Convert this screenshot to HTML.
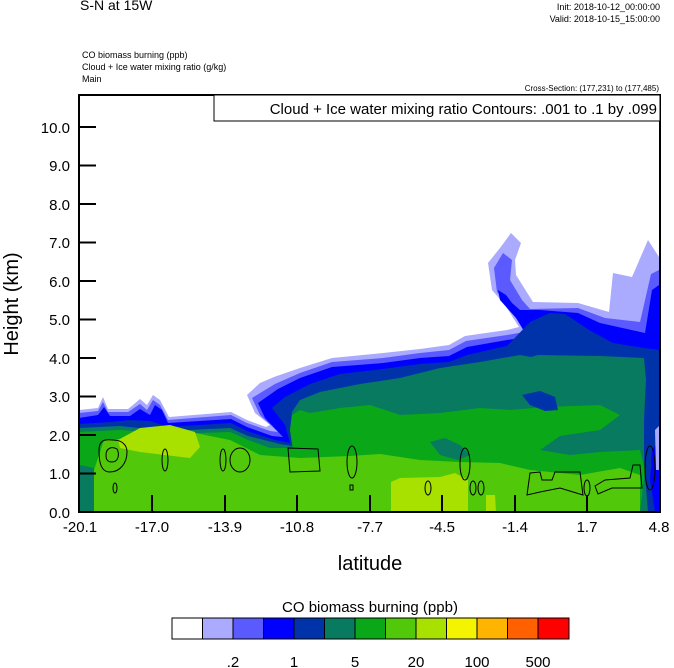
<!DOCTYPE html>
<html><head><meta charset="utf-8"><style>
body{margin:0;background:#fff;width:674px;height:668px;overflow:hidden}
svg{display:block;font-family:"Liberation Sans",sans-serif}
</style></head><body>
<svg width="674" height="668" viewBox="0 0 674 668" xmlns="http://www.w3.org/2000/svg">
<rect width="674" height="668" fill="#fff"/>
<text x="80" y="10" font-size="14">S-N at 15W</text>
<text x="660" y="10" font-size="9" text-anchor="end">Init: 2018-10-12_00:00:00</text>
<text x="660" y="22" font-size="9" text-anchor="end">Valid: 2018-10-15_15:00:00</text>
<text x="82" y="58" font-size="9">CO biomass burning   (ppb)</text>
<text x="82" y="70" font-size="9">Cloud + Ice water mixing ratio   (g/kg)</text>
<text x="82" y="82" font-size="9">Main</text>
<text x="659" y="91" font-size="8" text-anchor="end">Cross-Section: (177,231) to (177,485)</text>
<defs><clipPath id="c"><rect x="79" y="95" width="581" height="417"/></clipPath></defs>
<g clip-path="url(#c)">
<polygon fill="#aaaaff" points="79,410 98,408 103,397 108,409 128,409 133,405 140,399 147,405 153,395 160,400 169,417 231,412 247,420 266,427 270,425 255,413 247,395 260,383 274,377 300,368 332,358 383,353 420,349 449,345 465,336 507,330 519,327 505,305 492,290 488,263 500,248 511,233 521,243 515,260 516,275 533,302 578,303 609,312 613,273 632,277 648,240 659,257 660,512 79,512"/>
<polygon fill="#5a5aff" points="79,413 98,411 103,402 108,412 128,412 140,404 147,410 153,400 160,405 168,420 231,415 247,423 270,431 278,432 260,415 252,398 275,384 300,373 332,362 383,358 420,353 449,350 466,341 507,335 524,332 512,310 497,292 494,268 503,253 512,260 510,280 522,300 530,309 578,308 605,318 640,322 651,274 659,270 660,512 79,512"/>
<polygon fill="#0000ff" points="79,418 98,415 104,407 110,416 130,416 140,409 150,415 155,405 162,410 168,423 231,419 247,427 272,436 283,437 265,418 258,403 278,389 300,378 332,367 383,363 420,358 449,356 467,347 507,340 528,337 516,318 500,300 498,290 506,295 512,303 520,310 540,310 578,313 600,323 645,333 652,290 659,285 660,512 79,512"/>
<polygon fill="#0033aa" points="79,424 110,422 130,420 150,421 168,427 231,423 247,431 275,440 290,443 285,425 272,408 285,397 310,384 340,374 383,369 420,364 449,362 467,355 507,346 530,322 550,313 565,314 589,330 613,343 644,348 660,350 660,512 79,512"/>
<polygon fill="#077a60" points="79,428 120,426 168,431 230,428 248,436 280,444 292,446 290,430 292,412 300,400 320,392 360,384 400,378 440,368 480,362 520,355 531,357 538,355 600,356 644,358 646,380 644,420 644,455 645,475 648,512 79,512"/>
<polygon fill="#0aa818" points="79,432 120,430 170,434 230,432 248,440 270,448 293,448 290,430 292,415 300,410 310,413 340,408 370,405 400,415 440,413 480,408 510,410 545,407 600,405 620,415 600,430 560,436 540,450 570,455 600,452 640,450 645,470 640,512 79,512"/>
<polygon fill="#0033aa" points="522,395 540,391 555,397 558,410 545,411 530,405"/>
<polygon fill="#077a60" points="430,442 445,438 460,445 470,455 458,460 440,455"/>
<polygon fill="#077a60" points="80,465 94,468 94,512 79,512"/>
<polygon fill="#52c80a" points="94,470 104,440 140,438 180,430 230,440 260,455 300,458 350,456 380,454 420,460 460,462 500,463 530,470 580,475 620,468 640,475 640,512 94,512"/>
<polygon fill="#a8e000" points="118,440 140,428 170,425 195,432 200,447 190,458 165,455 140,452 120,448"/>
<polygon fill="#a8e000" points="391,482 400,478 440,477 455,473 468,480 468,512 391,512"/>
<polygon fill="#a8e000" points="486,495 495,495 496,512 486,512"/>
<polygon fill="#0000ff" points="652,450 660,440 660,512 655,512 650,480"/>
<polygon fill="#aaaaff" points="655,430 660,425 660,470 656,470"/>
<g fill="none" stroke="#000" stroke-width="1">
<path d="M99,450 C99,440 105,439 113,440 C122,440 127,445 127,452 C127,463 120,472 110,472 C100,472 99,460 99,450Z"/>
<path d="M106,455 C106,448 112,446 117,449 C120,455 118,462 112,462 C107,462 106,459 106,455Z"/>
<ellipse cx="165" cy="460" rx="3" ry="11"/>
<ellipse cx="223" cy="460" rx="3" ry="11"/>
<ellipse cx="240" cy="460" rx="10" ry="12"/>
<path d="M288,448 L318,449 L320,471 L290,472 Z"/>
<ellipse cx="352" cy="462" rx="5" ry="16"/>
<rect x="350" y="485" width="3" height="5"/>
<ellipse cx="465" cy="464" rx="5" ry="16"/>
<ellipse cx="428" cy="488" rx="3" ry="7"/>
<ellipse cx="473" cy="488" rx="3" ry="7"/>
<ellipse cx="481" cy="488" rx="3" ry="7"/>
<ellipse cx="115" cy="488" rx="2" ry="5"/>
<path d="M530,473 L540,472 L542,480 L552,480 L555,472 L580,472 L583,495 L560,488 L540,492 L527,495 Z"/>
<path d="M595,486 L605,480 L630,478 L633,465 L640,465 L642,488 L612,488 L598,494 Z"/>
<ellipse cx="587" cy="488" rx="3" ry="8"/>
<ellipse cx="650" cy="468" rx="5" ry="22"/>
</g>
</g>
<rect x="79" y="95" width="581" height="417" fill="none" stroke="#000" stroke-width="2"/>
<rect x="214" y="95" width="446" height="26" fill="#fff" stroke="#000" stroke-width="1"/>
<text x="657" y="114" font-size="15" text-anchor="end">Cloud + Ice water mixing ratio Contours: .001 to .1 by .099</text>
<g stroke="#000" stroke-width="2">
<line x1="79" y1="127" x2="96" y2="127"/><line x1="79" y1="165.5" x2="96" y2="165.5"/><line x1="79" y1="204" x2="96" y2="204"/><line x1="79" y1="242.5" x2="96" y2="242.5"/><line x1="79" y1="281" x2="96" y2="281"/><line x1="79" y1="319.5" x2="96" y2="319.5"/><line x1="79" y1="358" x2="96" y2="358"/><line x1="79" y1="396.5" x2="96" y2="396.5"/><line x1="79" y1="435" x2="96" y2="435"/><line x1="79" y1="473.5" x2="96" y2="473.5"/>
<line x1="152" y1="495" x2="152" y2="512"/><line x1="225" y1="495" x2="225" y2="512"/><line x1="297" y1="495" x2="297" y2="512"/><line x1="370" y1="495" x2="370" y2="512"/><line x1="442" y1="495" x2="442" y2="512"/><line x1="515" y1="495" x2="515" y2="512"/><line x1="587" y1="495" x2="587" y2="512"/>
</g>
<g font-size="15" text-anchor="end">
<text x="70" y="133">10.0</text><text x="70" y="171">9.0</text><text x="70" y="210">8.0</text><text x="70" y="248">7.0</text><text x="70" y="287">6.0</text><text x="70" y="325">5.0</text><text x="70" y="364">4.0</text><text x="70" y="402">3.0</text><text x="70" y="441">2.0</text><text x="70" y="479">1.0</text><text x="70" y="518">0.0</text>
</g>
<g font-size="15" text-anchor="middle">
<text x="80" y="532">-20.1</text><text x="152" y="532">-17.0</text><text x="225" y="532">-13.9</text><text x="297" y="532">-10.8</text><text x="370" y="532">-7.7</text><text x="442" y="532">-4.5</text><text x="515" y="532">-1.4</text><text x="587" y="532">1.7</text><text x="659" y="532">4.8</text>
</g>
<text x="370" y="570" font-size="20" text-anchor="middle">latitude</text>
<text transform="translate(18,304) rotate(-90)" font-size="20" text-anchor="middle">Height (km)</text>
<text x="370" y="612" font-size="15" text-anchor="middle">CO biomass burning  (ppb)</text>
<g stroke="#000" stroke-width="1">
<rect x="172" y="618" width="30.5" height="21" fill="#fff"/>
<rect x="202.5" y="618" width="30.5" height="21" fill="#aaaaff"/>
<rect x="233" y="618" width="30.5" height="21" fill="#5a5aff"/>
<rect x="263.5" y="618" width="30.5" height="21" fill="#0000ff"/>
<rect x="294" y="618" width="30.5" height="21" fill="#0033aa"/>
<rect x="324.5" y="618" width="30.5" height="21" fill="#077a60"/>
<rect x="355" y="618" width="30.5" height="21" fill="#0aa818"/>
<rect x="385.5" y="618" width="30.5" height="21" fill="#52c80a"/>
<rect x="416" y="618" width="30.5" height="21" fill="#a8e000"/>
<rect x="446.5" y="618" width="30.5" height="21" fill="#f4f400"/>
<rect x="477" y="618" width="30.5" height="21" fill="#ffb400"/>
<rect x="507.5" y="618" width="30.5" height="21" fill="#ff6000"/>
<rect x="538" y="618" width="31" height="21" fill="#ff0000"/>
</g>
<g font-size="15" text-anchor="middle">
<text x="233" y="667">.2</text><text x="294" y="667">1</text><text x="355" y="667">5</text><text x="416" y="667">20</text><text x="477" y="667">100</text><text x="538" y="667">500</text>
</g>
</svg>
</body></html>
